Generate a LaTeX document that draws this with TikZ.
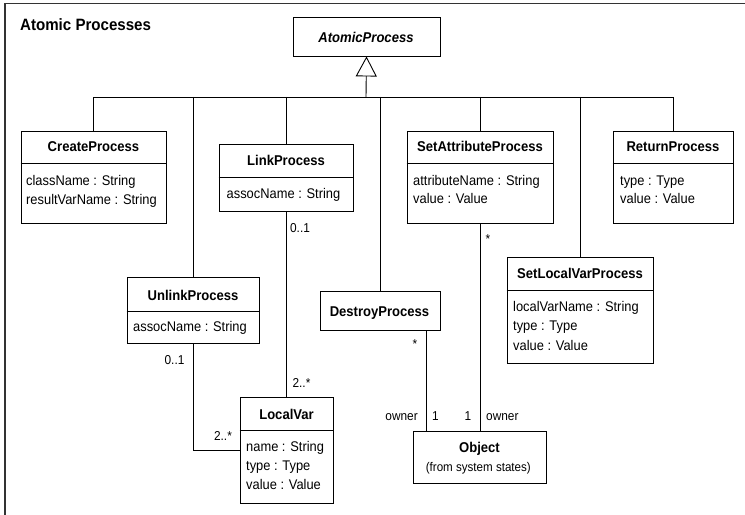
\documentclass[tikz,border=0pt]{standalone}
\usepackage{fontspec}
\setmainfont{Liberation Sans}[FakeStretch=0.92]
\usetikzlibrary{arrows.meta}
\begin{document}
\begin{tikzpicture}[x=1bp,y=-1bp,
  umlbox/.style={draw, line width=0.9bp, inner sep=0pt},
  cname/.style={font=\fontsize{14.2bp}{17bp}\selectfont\bfseries, anchor=base, inner sep=0pt},
  aname/.style={font=\fontsize{14.2bp}{17bp}\selectfont\bfseries\itshape, anchor=base, inner sep=0pt},
  attr/.style={font=\fontsize{14bp}{17bp}\selectfont, anchor=base west, inner sep=0pt},
  mult/.style={font=\fontsize{12.9bp}{15bp}\selectfont, anchor=base, inner sep=0pt},
  note/.style={font=\fontsize{12.6bp}{15bp}\selectfont, anchor=base, inner sep=0pt},
  titletext/.style={font=\fontsize{16.4bp}{19bp}\selectfont\bfseries, anchor=base west, inner sep=0pt},
  conn/.style={line width=0.9bp},
  sep/.style={line width=0.9bp}
]
\useasboundingbox (0,0) rectangle (745,515);
% frame
\draw[line width=1.4bp, black!80] (5,515) -- (5,3.5) -- (745,3.5);
\node[titletext] (title) at (20,31) {Atomic Processes};

% AtomicProcess
\node[umlbox, minimum width=147bp, minimum height=39bp] (atomic) at (366.5,36.5) {};
\node[aname] (atomicname) at (366,42.5) {AtomicProcess};

% CreateProcess
\node[umlbox, minimum width=145bp, minimum height=92bp] (create) at (93.5,177) {};
\draw[sep] (create.west |- 0,163) -- (create.east |- 0,163);
\node[cname] (createname) at (93.5,151.7) {CreateProcess};
\node[attr] (createa1) at (26,185.7) {className : String};
\node[attr] (createa2) at (26,204.3) {resultVarName : String};

% LinkProcess
\node[umlbox, minimum width=134bp, minimum height=67bp] (link) at (286,177.5) {};
\draw[sep] (link.west |- 0,177) -- (link.east |- 0,177);
\node[cname] (linkname) at (286,165.5) {LinkProcess};
\node[attr] (linka1) at (226.5,198.5) {assocName : String};

% SetAttributeProcess
\node[umlbox, minimum width=146bp, minimum height=92bp] (setattr) at (480,177) {};
\draw[sep] (setattr.west |- 0,163) -- (setattr.east |- 0,163);
\node[cname] (setattrname) at (480,152) {SetAttributeProcess};
\node[attr] (setattra1) at (413,185.5) {attributeName : String};
\node[attr] (setattra2) at (413,204) {value : Value};

% ReturnProcess
\node[umlbox, minimum width=120bp, minimum height=92bp] (return) at (673,177) {};
\draw[sep] (return.west |- 0,163) -- (return.east |- 0,163);
\node[cname] (returnname) at (673,152) {ReturnProcess};
\node[attr] (returna1) at (620,185.5) {type : Type};
\node[attr] (returna2) at (620,204) {value : Value};

% UnlinkProcess
\node[umlbox, minimum width=132bp, minimum height=66bp] (unlink) at (193,310) {};
\draw[sep] (unlink.west |- 0,311) -- (unlink.east |- 0,311);
\node[cname] (unlinkname) at (193,300) {UnlinkProcess};
\node[attr] (unlinka1) at (133,331) {assocName : String};

% DestroyProcess
\node[umlbox, minimum width=120bp, minimum height=39bp] (destroy) at (380,310.5) {};
\node[cname] (destroyname) at (379.5,316) {DestroyProcess};

% SetLocalVarProcess
\node[umlbox, minimum width=146bp, minimum height=106bp] (setlocal) at (580,310) {};
\draw[sep] (setlocal.west |- 0,290) -- (setlocal.east |- 0,290);
\node[cname] (setlocalname) at (580,279) {SetLocalVarProcess};
\node[attr] (setlocala1) at (513,311.5) {localVarName : String};
\node[attr] (setlocala2) at (513,330.5) {type : Type};
\node[attr] (setlocala3) at (513,350) {value : Value};

% LocalVar
\node[umlbox, minimum width=93bp, minimum height=106bp] (localvar) at (286.5,450) {};
\draw[sep] (localvar.west |- 0,430) -- (localvar.east |- 0,430);
\node[cname] (localvarname) at (286.5,419) {LocalVar};
\node[attr] (localvara1) at (246,451) {name : String};
\node[attr] (localvara2) at (246,470.5) {type : Type};
\node[attr] (localvara3) at (246,489.5) {value : Value};

% Object
\node[umlbox, minimum width=133bp, minimum height=52bp] (object) at (479.5,457) {};
\node[cname] (objectname) at (479.5,452.5) {Object};
\node[note] (objectnote) at (478.3,471) {(from system states)};

% generalization
\coordinate (bus) at (366,97);
\draw[conn, -{Triangle[open, length=20bp, width=21bp, line width=0.9bp]}] (bus) -- (atomic.south);
\draw[conn] (create.north) -- (create.north |- bus) -- (return.north |- bus) -- (return.north);
\foreach \n in {unlink, link, destroy, setattr, setlocal}
  \draw[conn] (\n.north |- bus) -- (\n.north);

% associations
\draw[conn] (link.south) -- (link.south |- localvar.north);
\draw[conn] (unlink.south) |- (localvar.west);
\coordinate (dfoot) at ([xshift=-14bp]destroy.south east);
\draw[conn] (dfoot) -- (dfoot |- object.north);
\draw[conn] (setattr.south) -- (setattr.south |- object.north);

% multiplicities and roles
\node[mult] (m1) at (300,233) {0..1};
\node[mult] (m2) at (301.5,387) {2..*};
\node[mult] (m3) at (174.5,364) {0..1};
\node[mult] (m4) at (223,440) {2..*};
\node[mult] (m5) at (488,243.5) {*};
\node[mult] (m6) at (415,348) {*};
\node[mult, anchor=base east] (r1) at (418,420) {owner};
\node[mult] (m7) at (435.5,420) {1};
\node[mult] (m8) at (468,420) {1};
\node[mult, anchor=base west] (r2) at (486,420) {owner};
\end{tikzpicture}
\end{document}
